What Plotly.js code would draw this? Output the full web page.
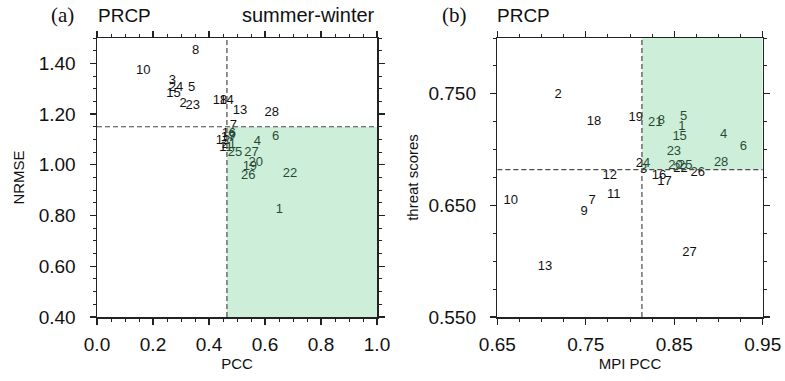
<!DOCTYPE html>
<html>
<head>
<meta charset="utf-8">
<script src="https://cdn.plot.ly/plotly-3.0.1.min.js"></script>
<style>html,body{margin:0;padding:0;background:#fff;}#chart{width:785px;height:381px;}</style>
</head>
<body>
<div id="chart"></div>
<script>
// ---- Panel (a): PRCP summer-winter, PCC vs NRMSE ----
const modelsA = ["1","2","3","4","5","6","7","8","9","10","11","12","13","14","15","16","17","18","19","20","21","22","23","24","25","26","27","28"];
const pccA   = [0.651,0.308,0.269,0.573,0.338,0.638,0.487,0.352,0.482,0.165,0.461,0.450,0.511,0.463,0.273,0.471,0.468,0.439,0.546,0.567,0.471,0.689,0.342,0.282,0.493,0.540,0.552,0.624];
const nrmseA = [0.821,1.241,1.330,1.090,1.303,1.110,1.156,1.451,1.113,1.369,1.069,1.093,1.212,1.254,1.281,1.124,1.105,1.254,0.992,1.009,1.081,0.966,1.232,1.303,1.048,0.956,1.048,1.204];
const threshA = {x: 0.464, y: 1.15};

// ---- Panel (b): PRCP, MPI PCC vs threat scores ----
const modelsB = ["1","2","3","4","5","6","7","8","9","10","11","12","13","15","16","17","18","19","20","21","22","23","24","25","26","27","28"];
const mpiPccB = [0.8587,0.7188,0.8155,0.9057,0.8606,0.9282,0.7571,0.8354,0.7481,0.6651,0.7816,0.7771,0.7038,0.8561,0.8327,0.8391,0.7594,0.8064,0.8515,0.8286,0.8572,0.8496,0.8146,0.8624,0.8767,0.8673,0.9030];
const tsB     = [0.7201,0.7490,0.6820,0.7136,0.7291,0.7022,0.6545,0.7260,0.6440,0.6545,0.6599,0.6769,0.5948,0.7118,0.6769,0.6709,0.7246,0.7282,0.6858,0.7240,0.6828,0.6977,0.6873,0.6858,0.6789,0.6073,0.6879];
const threshB = {x: 0.8135, y: 0.682};

const rangeA = {x:[0,1], y:[0.4,1.5]};
const rangeB = {x:[0.65,0.95], y:[0.55,0.80]};

const SANS = "Liberation Sans, Arial, sans-serif";
const SERIF = "Liberation Serif, Times New Roman, serif";
const GREEN = "rgba(90,200,130,0.30)";
const DASH = {color:"#4a4a4a", width:1.2, dash:"5px,3px"};

const traces = [
  {type:"scatter", mode:"text", x:pccA, y:nrmseA, text:modelsA, textposition:"middle center",
   textfont:{family:SANS, size:13, color:"#111"}, xaxis:"x", yaxis:"y", hoverinfo:"skip", showlegend:false},
  {type:"scatter", mode:"text", x:mpiPccB, y:tsB, text:modelsB, textposition:"middle center",
   textfont:{family:SANS, size:13, color:"#111"}, xaxis:"x2", yaxis:"y2", hoverinfo:"skip", showlegend:false}
];

function axis(extra){
  return Object.assign({
    showline:true, linecolor:"#222", linewidth:1.5, mirror:"allticks",
    ticks:"outside", ticklen:6, tickwidth:1.3, tickcolor:"#222",
    showgrid:false, zeroline:false, fixedrange:true,
    tickfont:{family:SANS, size:19, color:"#111"}
  }, extra);
}

const shapes = [
  {type:"rect", xref:"x", yref:"y", x0:threshA.x, x1:rangeA.x[1], y0:rangeA.y[0], y1:threshA.y, fillcolor:GREEN, line:{width:0}, layer:"above"},
  {type:"line", xref:"x", yref:"y", x0:threshA.x, x1:threshA.x, y0:rangeA.y[0], y1:rangeA.y[1], line:DASH, layer:"above"},
  {type:"line", xref:"x", yref:"y", x0:rangeA.x[0], x1:rangeA.x[1], y0:threshA.y, y1:threshA.y, line:DASH, layer:"above"},
  {type:"rect", xref:"x2", yref:"y2", x0:threshB.x, x1:rangeB.x[1], y0:threshB.y, y1:rangeB.y[1], fillcolor:GREEN, line:{width:0}, layer:"above"},
  {type:"line", xref:"x2", yref:"y2", x0:threshB.x, x1:threshB.x, y0:rangeB.y[0], y1:rangeB.y[1], line:DASH, layer:"above"},
  {type:"line", xref:"x2", yref:"y2", x0:rangeB.x[0], x1:rangeB.x[1], y0:threshB.y, y1:threshB.y, line:DASH, layer:"above"}
];

const yTop = 1 - 15/381;
const annotations = [
  {text:"(a)", xref:"paper", yref:"paper", x:49/785, y:yTop, xanchor:"left", yanchor:"middle", showarrow:false, font:{family:SERIF, size:21, color:"#111"}},
  {text:"PRCP", xref:"paper", yref:"paper", x:96/785, y:yTop, xanchor:"left", yanchor:"middle", showarrow:false, font:{family:SANS, size:19, color:"#111"}},
  {text:"summer-winter", xref:"paper", yref:"paper", x:377/785, y:yTop, xanchor:"right", yanchor:"middle", showarrow:false, font:{family:SANS, size:20, color:"#111"}},
  {text:"(b)", xref:"paper", yref:"paper", x:440/785, y:yTop, xanchor:"left", yanchor:"middle", showarrow:false, font:{family:SERIF, size:21, color:"#111"}},
  {text:"PRCP", xref:"paper", yref:"paper", x:495/785, y:yTop, xanchor:"left", yanchor:"middle", showarrow:false, font:{family:SANS, size:19, color:"#111"}}
];

const minorTicks = (dt, t0) => ({ticks:"outside", ticklen:3, tickwidth:1, tickcolor:"#222", dtick:dt, tick0:t0, showgrid:false});
const yDom = [64/381, 343/381];
const layout = {
  width:785, height:381, margin:{l:0, r:0, t:0, b:0},
  paper_bgcolor:"#fff", plot_bgcolor:"#fff", showlegend:false,
  xaxis: axis({domain:[97/785, 377/785], range:rangeA.x, tick0:0, dtick:0.2, tickformat:".1f",
    minor:minorTicks(0.05, 0), ticklabelstandoff:4,
    title:{text:"PCC", font:{family:SANS, size:15, color:"#111"}, standoff:3}, anchor:"y"}),
  yaxis: axis({domain:yDom, range:rangeA.y, tick0:0.4, dtick:0.2, tickformat:".2f",
    minor:minorTicks(0.05, 0.4), ticklabelstandoff:10,
    title:{text:"NRMSE", font:{family:SANS, size:15, color:"#111"}, standoff:10}, anchor:"x"}),
  xaxis2: axis({domain:[497.3/785, 762.7/785], range:rangeB.x, tick0:0.65, dtick:0.1, tickformat:".2f",
    minor:minorTicks(0.025, 0.65), ticklabelstandoff:4,
    title:{text:"MPI PCC", font:{family:SANS, size:15, color:"#111"}, standoff:3}, anchor:"y2"}),
  yaxis2: axis({domain:yDom, range:rangeB.y, tick0:0.55, dtick:0.1, tickformat:".3f",
    minor:minorTicks(0.025, 0.55), ticklabelstandoff:10,
    title:{text:"threat scores", font:{family:SANS, size:15, color:"#111"}, standoff:6}, anchor:"x2"}),
  shapes:shapes,
  annotations:annotations
};

Plotly.newPlot("chart", traces, layout, {staticPlot:true, displayModeBar:false});
</script>
</body>
</html>
